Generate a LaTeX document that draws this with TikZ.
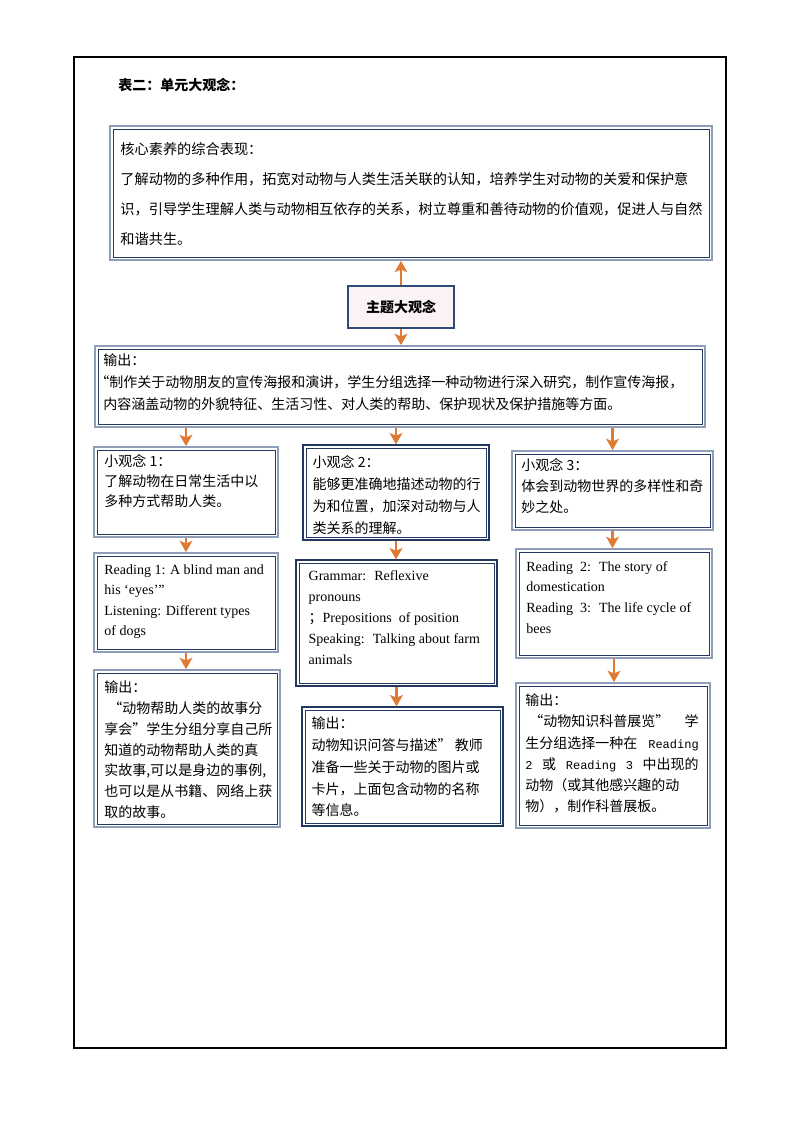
\documentclass[tikz,border=0pt]{standalone}
\usepackage{fontspec}
\setmainfont{Noto Sans CJK SC}
\newfontfamily\entimes{Liberation Serif}
\newfontfamily\enmono{Liberation Mono}
\usetikzlibrary{arrows.meta,positioning,fit}
\XeTeXlinebreaklocale "zh"
\XeTeXlinebreakskip=0pt plus 1pt
\definecolor{boxgray}{HTML}{8E9DB8}
\definecolor{boxnavy}{HTML}{22385E}
\definecolor{themeblue}{HTML}{2D4A7A}
\definecolor{themefill}{HTML}{FBF3F3}
\definecolor{arroworange}{HTML}{E07A33}

\begin{document}
\begin{tikzpicture}[x=0.75pt, y=-0.75pt,
    gbox/.style={draw=boxgray, line width=1.3pt, inner sep=0pt, path picture={\draw[boxnavy, line width=0.6pt] ([shift={(2.3pt,-2.3pt)}]path picture bounding box.north west) rectangle ([shift={(-2.3pt,2.3pt)}]path picture bounding box.south east);}},
    nbox/.style={gbox, draw=boxnavy, line width=0.9pt},
    themebox/.style={draw=themeblue, fill=themefill, line width=2.2pt, minimum width=79.5pt, minimum height=31.5pt, font=\fontsize{10.5pt}{14pt}\selectfont\bfseries},
    txt/.style={anchor=north west, inner sep=0pt, align=left, font=\fontsize{10.5pt}{#1}\selectfont},
    txt/.default=16.5pt,
    etxt/.style={anchor=north west, inner sep=0pt, align=left, font=\entimes\fontsize{10.5pt}{#1}\selectfont},
    flow/.style={draw=arroworange, line width=1.6pt, -{Stealth[length=8.5pt,width=9.5pt,inset=2pt]}}
]
    \useasboundingbox (0,0) rectangle (794,1123);

    % page frame
    \draw[line width=1.5pt] (74,57) rectangle (726,1048);
    \node[anchor=west, inner sep=0pt, font=\fontsize{10.5pt}{14pt}\selectfont\bfseries] (title) at (118,85) {表二：单元大观念：};

    % core literacy (top)
    \node[gbox, fit={(110,126) (712,260)}] (core) {};
    \node[anchor=north west, inner sep=0pt, align=left, font=\fontsize{10.65pt}{22.5pt}\selectfont] (coreT) at ([shift={(11,17.5)}]core.north west) {核心素养的综合表现：\\
      了解动物的多种作用，拓宽对动物与人类生活关联的认知，培养学生对动物的关爱和保护意\\
      识，引导学生理解人类与动物相互依存的关系，树立尊重和善待动物的价值观，促进人与自然\\
      和谐共生。};

    % theme idea
    \node[themebox] (theme) at (401,307) {主题大观念};

    % overall output
    \node[gbox, fit={(95,346) (705,427)}] (output) {};
    \node[txt] (outputT) at ([shift={(9,8.5)}]output.north west) {输出：\\
      \hspace{-6pt}“制作关于动物朋友的宣传海报和演讲，学生分组选择一种动物进行深入研究，制作宣传海报，\\
      内容涵盖动物的外貌特征、生活习性、对人类的帮助、保护现状及保护措施等方面。};

    % small ideas
    \node[gbox, fit={(94,447) (278,537)}] (idea1) {};
    \node[txt=15pt] (idea1T) at ([shift={(11,8.5)}]idea1.north west) {小观念 1：\\
      了解动物在日常生活中以\\
      多种方式帮助人类。};
    \node[nbox, fit={(303,445) (489,540)}] (idea2) {};
    \node[txt] (idea2T) at ([shift={(10,10.5)}]idea2.north west) {小观念 2：\\
      能够更准确地描述动物的行\\
      为和位置，加深对动物与人\\
      类关系的理解。};
    \node[gbox, fit={(512,451) (713,530)}] (idea3) {};
    \node[txt=15.75pt] (idea3T) at ([shift={(10,8.5)}]idea3.north west) {小观念 3：\\
      体会到动物世界的多样性和奇\\
      妙之处。};

    % lessons
    \node[gbox, fit={(94,553) (278,652)}] (lesson1) {};
    \node[etxt=15.4pt] (lesson1T) at ([shift={(11,12)}]lesson1.north west) {Reading 1: A blind man and\\
      his ‘eyes’”\\
      Listening: Different types\\
      of dogs};
    \node[nbox, fit={(296,560) (497,686)}] (lesson2) {};
    \node[etxt=15.75pt] (lesson2T) at ([shift={(13,11)}]lesson2.north west) {Grammar:~ Reflexive\\
      pronouns\\
      {\rmfamily ；}Prepositions~ of position\\
      Speaking:~ Talking about farm\\
      animals};
    \node[gbox, fit={(516,549) (712,658)}] (lesson3) {};
    \node[etxt=15.5pt] (lesson3T) at ([shift={(11,13)}]lesson3.north west) {Reading~ 2:~ The story of\\
      domestication\\
      Reading~ 3:~ The life cycle of\\
      bees};

    % outputs
    \node[gbox, fit={(94,670) (280,827)}] (out1) {};
    \node[txt=15.6pt] (out1T) at ([shift={(11,11.5)}]out1.north west) {输出：\\
      \hspace{3pt}“动物帮助人类的故事分\\
      享会”学生分组分享自己所\\
      知道的动物帮助人类的真\\
      实故事,可以是身边的事例,\\
      也可以是从书籍、网络上获\\
      取的故事。};
    \node[nbox, fit={(302,707) (503,826)}] (out2) {};
    \node[txt=16.3pt] (out2T) at ([shift={(10,10.5)}]out2.north west) {输出：\\
      动物知识问答与描述” 教师\\
      准备一些关于动物的图片或\\
      卡片，上面包含动物的名称\\
      等信息。};
    \node[gbox, fit={(516,683) (710,828)}] (out3) {};
    \node[txt=15.9pt] (out3T) at ([shift={(10,11.5)}]out3.north west) {输出：\\
      \makebox[130pt][s]{\hspace{3pt}“动物知识科普展览”\hfill 学}\\
      \makebox[130pt][s]{生分组选择一种在\hfill{\enmono\fontsize{9pt}{15.9pt}\selectfont Reading}}\\
      \makebox[130pt][s]{{\enmono\fontsize{9pt}{15.9pt}\selectfont 2}\hfill 或\hfill{\enmono\fontsize{9pt}{15.9pt}\selectfont Reading}\hfill{\enmono\fontsize{9pt}{15.9pt}\selectfont 3}\hfill 中出现的}\\
      \makebox[130pt][s]{动物（或其他感兴趣的动}\\
      物），制作科普展板。};

    % connectors
    \draw[flow] (theme.north) -- (theme.north |- core.south);
    \draw[flow] (theme.south) -- (theme.south |- output.north);
    \draw[flow] (output.south -| idea1.north) -- (idea1.north);
    \draw[flow] (output.south -| idea2.north) -- (idea2.north);
    \draw[flow] (output.south -| idea3.north) -- (idea3.north);
    \draw[flow] (idea1.south) -- (idea1.south |- lesson1.north);
    \draw[flow] (idea2.south) -- (idea2.south |- lesson2.north);
    \draw[flow] (idea3.south) -- (idea3.south |- lesson3.north);
    \draw[flow] (lesson1.south) -- (lesson1.south |- out1.north);
    \draw[flow] (lesson2.south) -- (lesson2.south |- out2.north);
    \draw[flow] (lesson3.south) -- (lesson3.south |- out3.north);
\end{tikzpicture}
\end{document}
